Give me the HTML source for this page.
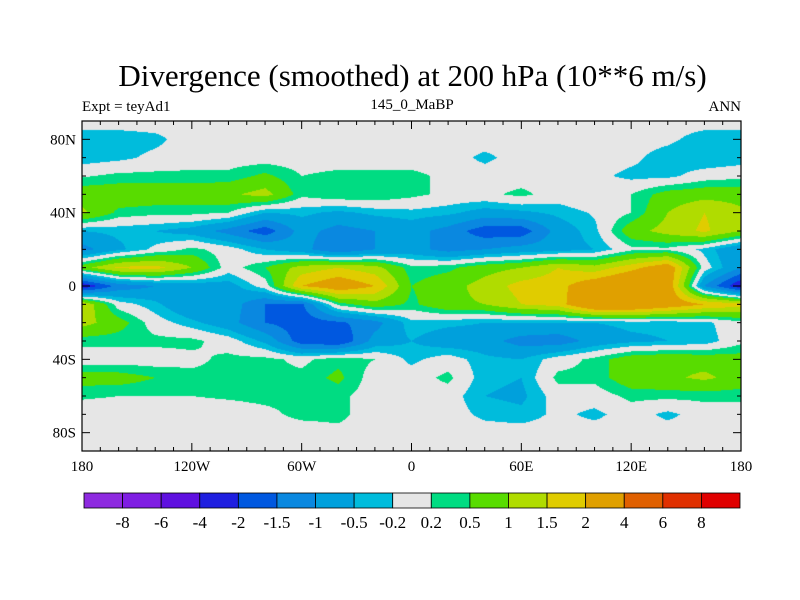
<!DOCTYPE html>
<html><head><meta charset="utf-8"><style>
body{margin:0;background:#fff;width:800px;height:600px;overflow:hidden;position:relative;font-family:"Liberation Serif",serif;}
.t{position:absolute;white-space:nowrap;color:#000;}
</style></head><body>
<div class="t" style="left:0;width:825px;text-align:center;top:58px;font-size:31px;">Divergence (smoothed) at 200 hPa (10**6 m/s)</div>
<div class="t" style="left:82px;top:99px;font-size:15px;">Expt = teyAd1</div>
<div class="t" style="left:312px;width:200px;text-align:center;top:97px;font-size:15px;">145_0_MaBP</div>
<div class="t" style="left:641px;width:100px;text-align:right;top:99px;font-size:15px;">ANN</div>
<canvas id="map" width="800" height="600" style="position:absolute;left:0;top:0"></canvas>
<svg id="ov" width="800" height="600" style="position:absolute;left:0;top:0"></svg>
<script>
const lons=[-180,-160,-140,-120,-100,-80,-60,-40,-20,0,20,40,60,80,100,120,140,160,180];
const lats=[90,80,70,60,50,40,30,20,10,0,-10,-20,-30,-40,-50,-60,-70,-80,-90];
const r90=[0,0,0,0,0,0,0,0,0,0,0,0,0,0,0,0,0,0,0];
const r80=[-0.4,-0.4,-0.3,0,0,0,0,0,0,0,0,0,0,0,0,0,-0.1,-0.4,-0.4];
const r70=[-0.4,-0.3,-0.1,0,0,0,0,0,0,0,0,-0.3,0,0,0,-0.1,-0.4,-0.5,-0.4];
const r60=[0.15,0.3,0.3,0.3,0.3,0.6,0.2,0.3,0.3,0.3,0.1,0,0,0,-0.1,-0.3,-0.3,0,0.1];
const r50=[0.8,0.8,0.8,0.8,0.9,1.2,0.3,0.5,0.5,0.3,0.1,0.1,0.3,0,0.2,0.2,0.7,0.8,0.8];
const r40=[1.1,0.4,0.3,0.3,0.2,-0.5,-0.4,-0.6,-0.4,-0.3,-0.4,-0.7,-0.6,-0.4,-0.15,0.2,1.0,1.5,1.1];
const r30=[-0.5,-0.4,-0.5,-0.7,-1.2,-1.8,-0.8,-1.2,-1.0,-0.8,-1.2,-1.8,-1.8,-0.8,-0.3,0.8,1.2,1.6,1.0];
const r20=[-1.2,-0.6,-0.1,0.3,0,-0.5,-0.8,-1.5,-1.0,-0.8,-1.2,-1.0,-0.8,-0.7,-0.5,0.1,0.1,-0.3,-1.0];
const r10=[0.8,1.6,1.7,1.0,0,0.5,1.2,1.5,1.2,0.3,0.4,0.8,1.0,1.5,1.2,1.8,2.5,0,-1.0];
const r0=[-2.5,-1.3,-1.0,-0.8,-0.7,0,2.0,2.5,2.0,0.5,0.8,1.2,1.7,1.8,2.5,3,2.5,-1.0,-2.5];
const rS10=[1.5,0,-0.4,-1.0,-0.7,-1.5,-1.6,0.3,0.8,0.4,0.9,1.0,1.5,1.7,3,3,2.5,2.0,1.7];
const rS20=[1.2,0.7,0,-0.4,-0.8,-1.5,-1.8,-1.6,-1.2,-0.3,-0.4,-0.5,-0.5,-0.5,-0.5,-0.4,-0.4,-0.3,0.1];
const rS30=[0.3,0.3,0.3,0.3,0,-0.6,-1.8,-2.0,-0.8,-0.5,-0.8,-0.8,-1.2,-1.3,-0.8,-0.6,-0.5,-0.4,0.1];
const rS40=[0,0,0,0.1,0.3,0.3,0.1,0.4,0.2,-0.3,0,-0.4,-0.5,0,0.3,0.8,0.9,0.8,0.7];
const rS50=[0.7,0.7,0.5,0.3,0.3,0.3,0.3,0.6,0,0,0.3,-0.4,-0.5,0.3,0.3,0.8,0.9,1.1,0.8];
const rS60=[0.25,0.2,0.2,0.2,0.25,0.3,0.3,0.3,0,0,0,-0.5,-0.6,0,0,0.3,0.3,0.3,0.3];
const rS70=[0,0,0,0,0,0.1,0.3,0.3,0,0,0,-0.3,-0.4,-0.1,-0.3,0,-0.3,0,0];
const rS80=[0,0,0,0,0,0,0,0.1,0,0,0,0,0,0,0,0,0,0,0];
const rS90=[0,0,0,0,0,0,0,0,0,0,0,0,0,0,0,0,0,0,0];
const grid=[r90,r80,r70,r60,r50,r40,r30,r20,r10,r0,rS10,rS20,rS30,rS40,rS50,rS60,rS70,rS80,rS90];
const levels=[-8,-6,-4,-2,-1.5,-1,-0.5,-0.2,0.2,0.5,1,1.5,2,4,6,8];
const levelLabels=["-8","-6","-4","-2","-1.5","-1","-0.5","-0.2","0.2","0.5","1","1.5","2","4","6","8"];
const colors=["#8e2ae0","#7f1ee3","#5f10e0","#1f1fe0","#0058e0","#0a88e0","#00a0dc","#00bcdc","#e6e6e6","#00dc82","#58dc00","#b0dc00","#e0cc00","#e0a000","#e06000","#e03000","#e00000"];
const latTicks=[80,40,0,-40,-80], latTickLabels=["80N","40N","0","40S","80S"];
const lonTicks=[-180,-120,-60,0,60,120,180], lonTickLabels=["180","120W","60W","0","60E","120E","180"];

const X0=82,X1=741,Y0=121,Y1=451;
const xOf=lon=>X0+(lon+180)/360*(X1-X0);
const yOf=lat=>Y0+(90-lat)/180*(Y1-Y0);
function val(lon,lat){
  let fx=(lon-lons[0])/(lons[1]-lons[0]), fy=(lats[0]-lat)/(lats[0]-lats[1]);
  fx=Math.max(0,Math.min(lons.length-1.0001,fx)); fy=Math.max(0,Math.min(lats.length-1.0001,fy));
  const i=Math.floor(fx),j=Math.floor(fy),a=fx-i,b=fy-j;
  return (grid[j][i]*(1-a)+grid[j][i+1]*a)*(1-b)+(grid[j+1][i]*(1-a)+grid[j+1][i+1]*a)*b;
}
function colOf(v){let k=0;while(k<levels.length&&v>=levels[k])k++;return colors[k];}
function hex(c){return [parseInt(c.slice(1,3),16),parseInt(c.slice(3,5),16),parseInt(c.slice(5,7),16)];}
const ctx=document.getElementById('map').getContext('2d');
const W=X1-X0,H=Y1-Y0,img=ctx.createImageData(W,H);
for(let py=0;py<H;py++)for(let px=0;px<W;px++){
  const lon=-180+(px+0.5)/W*360, lat=90-(py+0.5)/H*180;
  const c=hex(colOf(val(lon,lat))),o=(py*W+px)*4;
  img.data[o]=c[0];img.data[o+1]=c[1];img.data[o+2]=c[2];img.data[o+3]=255;
}
ctx.putImageData(img,X0,Y0);

const svg=document.getElementById('ov'),NS="http://www.w3.org/2000/svg";
function mk(tag,attrs,parent){const e=document.createElementNS(NS,tag);for(const k in attrs)e.setAttribute(k,attrs[k]);(parent||svg).appendChild(e);return e;}
const frame=mk('rect',{x:X0,y:Y0,width:W,height:H,fill:'none',stroke:'#000','stroke-width':1.2});


for(let lat=-80;lat<=80;lat+=10){const y=yOf(lat),L=(lat%40===0)?8:4;
  mk('line',{x1:X0,x2:X0+L,y1:y,y2:y,stroke:'#000'});mk('line',{x1:X1,x2:X1-L,y1:y,y2:y,stroke:'#000'});}
for(let lon=-170;lon<=170;lon+=10){const x=xOf(lon),L=(lon%60===0)?8:4;
  mk('line',{x1:x,x2:x,y1:Y0,y2:Y0+L,stroke:'#000'});mk('line',{x1:x,x2:x,y1:Y1,y2:Y1-L,stroke:'#000'});}
latTicks.forEach((lat,i)=>{const t=mk('text',{x:X0-6,y:yOf(lat)+5,'text-anchor':'end','font-size':15,'font-family':'Liberation Serif'});t.textContent=latTickLabels[i];
  
  });
lonTicks.forEach((lon,i)=>{const t=mk('text',{x:xOf(lon),y:Y1+20,'text-anchor':'middle','font-size':15,'font-family':'Liberation Serif'});t.textContent=lonTickLabels[i];
  
  });
// colorbar
const CB0=84,CB1=740,CBY=493,CBH=15,bw=(CB1-CB0)/colors.length;
const cb=mk('g',{});


colors.forEach((c,i)=>{const r=mk('rect',{x:CB0+i*bw,y:CBY,width:bw,height:CBH,fill:c,stroke:'#000','stroke-width':0.8},cb);
  
  });
levelLabels.forEach((s,i)=>{const t=mk('text',{x:CB0+(i+1)*bw,y:CBY+CBH+20,'text-anchor':'middle','font-size':17,'font-family':'Liberation Serif'},cb);t.textContent=s;
  
  });
</script>
</body></html>
